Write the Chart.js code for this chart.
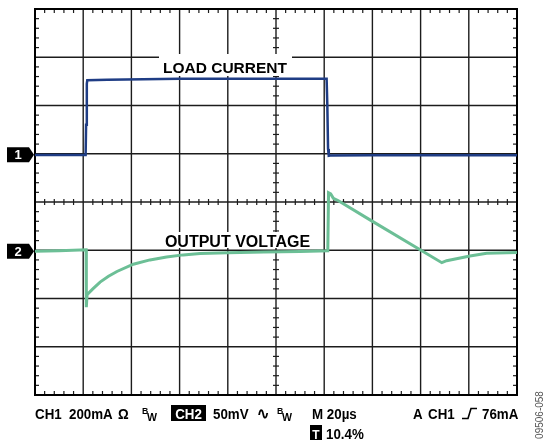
<!DOCTYPE html>
<html lang="en">
<head>
    <meta charset="UTF-8">
    <title>Load Transient</title>
    <script src="https://cdn.jsdelivr.net/npm/chart.js"></script>
    <style>
        body {
            margin: 0;
            background: #fff;
        }
        #scope {
            display: block;
        }
    </style>
</head>
<body>
    <canvas id="scope" width="544" height="444"></canvas>
    <script>
        // CH1: load current (mA) vs time (us)
        const currentTimes = [0, 10, 21.0, 21.2, 21.5, 21.7, 30, 45, 60, 80, 100, 121.0, 121.3, 121.6, 121.9, 122.5, 140, 160, 180, 200];
        const currentMa = [-5, -5, -5, 120, 290, 305, 307, 309, 311, 311, 311, 311, 200, 20, -8, -7, -6, -6, -6, -6];

        // CH2: output voltage (mV, AC coupled) vs time (us)
        const voltTimes = [0, 10, 21.2, 21.3, 21.6, 24, 27, 30.5, 34, 40.8, 47.7, 54.6, 61.5, 68.5, 80, 95, 110, 121.5, 121.8, 122.7, 123.8, 125.9, 139, 159.8, 168.8, 170.8, 180.5, 187.4, 200];
        const voltMv = [-1, -0.5, 0.5, -59, -46, -40, -33, -27, -22, -14.5, -10, -7, -4.8, -3.4, -2.5, -1.8, -1.2, -0.5, 59.5, 58.3, 53.8, 51.3, 31.5, 0.5, -12.9, -10.8, -6, -3.2, -2.3];

        // scope settings: 20us/div, CH1 200mA/div, CH2 50mV/div
        const timeRange = [0, 200];
        const ch1Range = [-1000, 600];
        const ch2Range = [-150, 250];

        const FONT = '"Liberation Sans", Arial, sans-serif';

        function toPoints(xs, ys) {
            return xs.map((x, i) => ({ x: x, y: ys[i] }));
        }

        function seg(ctx, x1, y1, x2, y2) {
            ctx.beginPath();
            ctx.moveTo(x1, y1);
            ctx.lineTo(x2, y2);
            ctx.stroke();
        }

        function labelBox(ctx, text, cx, baseline, size, box) {
            ctx.fillStyle = '#fff';
            ctx.fillRect(box[0], box[1], box[2], box[3]);
            ctx.fillStyle = '#000';
            ctx.font = 'bold ' + size + 'px ' + FONT;
            ctx.textAlign = 'center';
            ctx.textBaseline = 'alphabetic';
            ctx.fillText(text, cx, baseline);
        }

        function channelMarker(ctx, num, cy) {
            ctx.fillStyle = '#000';
            ctx.beginPath();
            ctx.moveTo(7, cy - 7.5);
            ctx.lineTo(29, cy - 7.5);
            ctx.lineTo(34, cy);
            ctx.lineTo(29, cy + 7.5);
            ctx.lineTo(7, cy + 7.5);
            ctx.closePath();
            ctx.fill();
            ctx.fillStyle = '#fff';
            ctx.font = 'bold 13px ' + FONT;
            ctx.textAlign = 'center';
            ctx.textBaseline = 'middle';
            ctx.fillText(num, 18, cy + 1);
        }

        // readout text is a little narrower than the plain font
        function txt(ctx, s, x, y, size, align) {
            ctx.save();
            ctx.translate(x, y);
            ctx.scale(0.92, 1);
            ctx.font = 'bold ' + size + 'px ' + FONT;
            ctx.textAlign = align || 'left';
            ctx.fillText(s, 0, 0);
            ctx.restore();
        }

        const scopePlugin = {
            id: 'scope',
            beforeDatasetsDraw(chart) {
                const ctx = chart.ctx;
                const a = chart.chartArea;
                const xs = chart.scales.x;
                const ys = chart.scales.y1;
                ctx.save();

                // major divisions
                ctx.strokeStyle = '#1c1c1c';
                ctx.lineWidth = 1.4;
                for (let t = timeRange[0] + 20; t < timeRange[1]; t += 20) {
                    const px = xs.getPixelForValue(t);
                    seg(ctx, px, a.top, px, a.bottom);
                }
                for (let v = ch1Range[0] + 200; v < ch1Range[1]; v += 200) {
                    const py = ys.getPixelForValue(v);
                    seg(ctx, a.left, py, a.right, py);
                }

                // minor ticks on the frame and on the centre lines
                ctx.lineWidth = 1.2;
                const cx = xs.getPixelForValue(100);
                const cy = ys.getPixelForValue(-200);
                for (let t = timeRange[0] + 4; t < timeRange[1]; t += 4) {
                    if (t % 20 === 0) continue;
                    const px = xs.getPixelForValue(t);
                    seg(ctx, px, a.top, px, a.top + 4);
                    seg(ctx, px, a.bottom, px, a.bottom - 4);
                    seg(ctx, px, cy - 3, px, cy + 3);
                }
                for (let v = ch1Range[0] + 40; v < ch1Range[1]; v += 40) {
                    if ((v - ch1Range[0]) % 200 === 0) continue;
                    const py = ys.getPixelForValue(v);
                    seg(ctx, a.left, py, a.left + 4, py);
                    seg(ctx, a.right, py, a.right - 4, py);
                    seg(ctx, cx - 3, py, cx + 3, py);
                }

                // frame
                ctx.lineWidth = 2;
                ctx.strokeStyle = '#000';
                ctx.strokeRect(a.left, a.top, a.right - a.left, a.bottom - a.top);

                // trace labels on white boxes
                labelBox(ctx, 'LOAD CURRENT', 225, 73, 15.5, [159, 54, 133, 22]);
                labelBox(ctx, 'OUTPUT VOLTAGE', 237.5, 247, 16, [159, 232, 159, 16]);

                ctx.restore();
            },
            afterDraw(chart) {
                const ctx = chart.ctx;
                ctx.save();

                // ground markers
                channelMarker(ctx, '1', chart.scales.y1.getPixelForValue(0) + 1);
                channelMarker(ctx, '2', chart.scales.y2.getPixelForValue(0) + 1);

                // settings readout
                ctx.textBaseline = 'alphabetic';
                ctx.fillStyle = '#000';
                const row1 = 419;
                const fs = 14.5;
                txt(ctx, 'CH1', 35, row1, fs);
                txt(ctx, '200mA', 69, row1, fs);
                txt(ctx, 'Ω', 118, row1, fs);
                txt(ctx, 'B', 142, row1 - 5, 9.5);
                txt(ctx, 'W', 147, row1 + 2, 11.5);

                ctx.fillRect(171, 405, 35, 16);
                ctx.fillStyle = '#fff';
                txt(ctx, 'CH2', 188.5, row1, fs, 'center');
                ctx.fillStyle = '#000';
                txt(ctx, '50mV', 213, row1, fs);
                txt(ctx, '∿', 257, row1, 16);
                txt(ctx, 'B', 277, row1 - 5, 9.5);
                txt(ctx, 'W', 282, row1 + 2, 11.5);

                txt(ctx, 'M 20µs', 312, row1, fs);
                txt(ctx, 'A', 413, row1, fs);
                txt(ctx, 'CH1', 428, row1, fs);
                txt(ctx, '76mA', 482, row1, fs);

                // rising edge trigger symbol
                ctx.strokeStyle = '#000';
                ctx.lineWidth = 1.6;
                ctx.beginPath();
                ctx.moveTo(462, row1 - 0.5);
                ctx.lineTo(468, row1 - 0.5);
                ctx.lineTo(471, row1 - 10.5);
                ctx.lineTo(477, row1 - 10.5);
                ctx.stroke();

                const row2 = 439;
                ctx.fillRect(310, 425, 12, 15);
                ctx.fillStyle = '#fff';
                txt(ctx, 'T', 316, row2 - 0.5, 13, 'center');
                ctx.fillStyle = '#000';
                txt(ctx, '10.4%', 326, row2, fs);

                // figure id
                ctx.translate(540, 415);
                ctx.rotate(-Math.PI / 2);
                ctx.fillStyle = '#555';
                ctx.font = '10px ' + FONT;
                ctx.textAlign = 'center';
                ctx.textBaseline = 'middle';
                ctx.fillText('09506-058', 0, 0);

                ctx.restore();
            }
        };

        const chart = new Chart(document.getElementById('scope').getContext('2d'), {
            type: 'line',
            data: {
                datasets: [{
                    label: 'LOAD CURRENT',
                    data: toPoints(currentTimes, currentMa),
                    yAxisID: 'y1',
                    borderColor: '#1f3d85',
                    borderWidth: 2.5,
                    pointRadius: 0,
                    tension: 0
                }, {
                    label: 'OUTPUT VOLTAGE',
                    data: toPoints(voltTimes, voltMv),
                    yAxisID: 'y2',
                    borderColor: '#6cbf96',
                    borderWidth: 3,
                    pointRadius: 0,
                    tension: 0
                }]
            },
            options: {
                responsive: false,
                animation: false,
                layout: {
                    padding: { left: 35, top: 9, right: 27, bottom: 49 }
                },
                scales: {
                    x: { type: 'linear', min: timeRange[0], max: timeRange[1], display: false },
                    y1: { min: ch1Range[0], max: ch1Range[1], display: false },
                    y2: { min: ch2Range[0], max: ch2Range[1], display: false }
                },
                plugins: {
                    legend: { display: false },
                    tooltip: { enabled: false }
                }
            },
            plugins: [scopePlugin]
        });
    </script>
</body>
</html>
